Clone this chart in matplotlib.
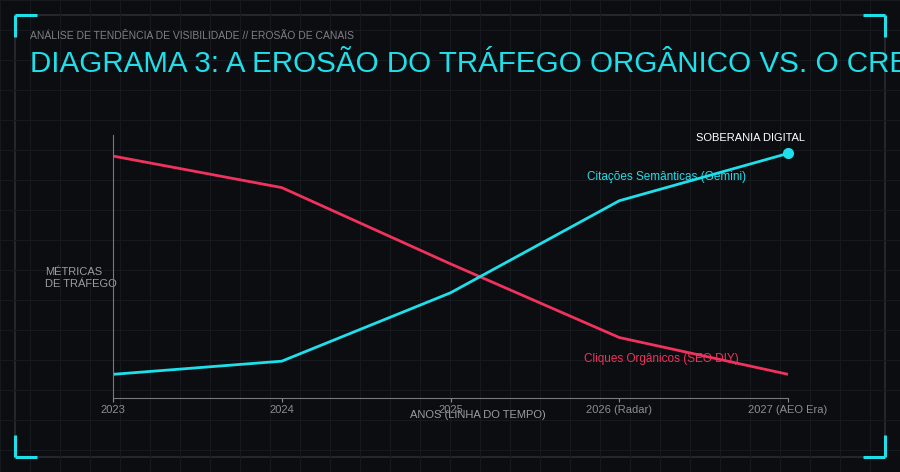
import matplotlib
matplotlib.use("Agg")
import matplotlib.pyplot as plt
from matplotlib.patches import Rectangle

years = ["2023", "2024", "2025", "2026 (Radar)", "2027 (AEO Era)"]
organic = [92, 80, 51, 23, 9]
semantic = [9, 14, 40, 75, 93]

plt.rcParams['font.family'] = ['Liberation Sans', 'DejaVu Sans']
BG = "#0b0d10"; CYAN = "#1fe0ea"; PINK = "#f0325e"; GRAY = "#8a8d92"

fig = plt.figure(figsize=(9, 4.72), dpi=100, facecolor=BG)
W, H = 900, 472
bg = fig.add_axes([0, 0, 1, 1]); bg.set_xlim(0, W); bg.set_ylim(H, 0); bg.axis("off")
for x in range(0, W, 30):
    bg.axvline(x, color="#16191d", lw=0.8)
for y in range(0, H, 30):
    bg.axhline(y, color="#16191d", lw=0.8)
bg.add_patch(Rectangle((15, 15), 870, 442, fill=False, ec="#2a2d33", lw=1.2))
L = 22
for (cx, cy, dx, dy) in [(15, 15, 1, 1), (885, 15, -1, 1), (15, 457, 1, -1), (885, 457, -1, -1)]:
    bg.plot([cx, cx + dx * L], [cy, cy], color=CYAN, lw=2.2, solid_capstyle="butt")
    bg.plot([cx, cx], [cy, cy + dy * L], color=CYAN, lw=2.2, solid_capstyle="butt")

bg.text(30, 36, "ANÁLISE DE TENDÊNCIA DE VISIBILIDADE // EROSÃO DE CANAIS", color="#7d8086",
        fontsize=7.5, va="center", ha="left")
bg.text(30, 64, "DIAGRAMA 3: A EROSÃO DO TRÁFEGO ORGÂNICO VS. O CRESCIMENTO DA AEO", color=CYAN,
        fontsize=21.3, va="center", ha="left", clip_on=True)
bg.text(45, 278, "MÉTRICAS\nDE TRÁFEGO", color="#9a9da2", fontsize=8, va="center", ha="left",
        linespacing=1.3)
bg.text(478, 415, "ANOS (LINHA DO TEMPO)", color="#9a9da2", fontsize=8, va="center", ha="center")

ax = fig.add_axes([113 / W, 1 - 398 / H, (788 - 113) / W, (398 - 135) / H])
ax.patch.set_alpha(0)
xs = list(range(len(years)))
ax.plot(xs, organic, color=PINK, lw=2)
ax.plot(xs, semantic, color=CYAN, lw=2)
ax.plot(xs[-1], semantic[-1], "o", color=CYAN, ms=7, clip_on=False)
ax.set_xlim(0, len(years) - 1); ax.set_ylim(0, 100)
ax.set_xticks(xs); ax.set_xticklabels(years, color=GRAY, fontsize=8)
ax.tick_params(axis="x", length=3, color=GRAY, pad=2)
ax.set_yticks([])
for s in ["top", "right"]:
    ax.spines[s].set_visible(False)
for s in ["left", "bottom"]:
    ax.spines[s].set_color("#777a80")
ax.text(3.78, 97, "SOBERANIA DIGITAL", color="white", fontsize=8, ha="center", va="bottom")
ax.text(3.28, 84, "Citações Semânticas (Gemini)", color=CYAN, fontsize=8.5, ha="center", va="center")
ax.text(3.25, 15, "Cliques Orgânicos (SEO DIY)", color=PINK, fontsize=8.5, ha="center", va="center")

fig.savefig("out.png", dpi=100, facecolor=BG)
